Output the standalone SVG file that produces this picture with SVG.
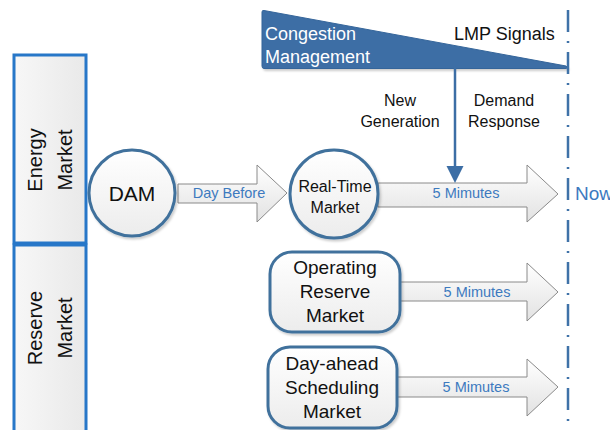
<svg xmlns="http://www.w3.org/2000/svg" width="610" height="430" viewBox="0 0 610 430">
<defs>
<linearGradient id="gArrow" x1="0" y1="0" x2="0" y2="1">
<stop offset="0" stop-color="#ffffff"/><stop offset="1" stop-color="#e2e2e2"/>
</linearGradient>
<linearGradient id="gNode" x1="0" y1="0" x2="0" y2="1">
<stop offset="0" stop-color="#ffffff"/><stop offset="1" stop-color="#ececec"/>
</linearGradient>
<linearGradient id="gPanel" x1="0" y1="0" x2="1" y2="0">
<stop offset="0" stop-color="#f7f7f7"/><stop offset="1" stop-color="#e9e9e9"/>
</linearGradient>
<filter id="sh" x="-10%" y="-10%" width="130%" height="130%">
<feDropShadow dx="1.5" dy="2" stdDeviation="1.2" flood-color="#000" flood-opacity="0.2"/>
</filter>
</defs>
<style>
text{font-family:"Liberation Sans",Arial,sans-serif;}
.node{fill:url(#gNode);stroke:#41719c;stroke-width:3;filter:url(#sh);}
.panel{fill:url(#gPanel);stroke:#2777c8;stroke-width:3;}
.arrow{fill:url(#gArrow);stroke:#8a8a8a;stroke-width:1;}
.lbl{fill:#3d7abf;font-size:14.5px;text-anchor:middle;}
.nt{fill:#111;text-anchor:middle;}
</style>

<g id="energy-market">
<rect class="panel" x="14" y="55" width="72" height="188"/>
<text class="nt" font-size="20" transform="translate(42,160) rotate(-90)">Energy</text>
<text class="nt" font-size="20" transform="translate(72,160) rotate(-90)">Market</text>
</g>
<g id="reserve-market">
<rect class="panel" x="14" y="245" width="72" height="200"/>
<text class="nt" font-size="20" transform="translate(42,328) rotate(-90)">Reserve</text>
<text class="nt" font-size="20" transform="translate(72,328) rotate(-90)">Market</text>
</g>

<g id="congestion">
<path d="M262,12 Q262,10 264,10.5 L566,66 Q569,68 566,68.5 L264,68.5 Q262,68.5 262,66 Z" fill="#3c6ea5" stroke="#35659a" stroke-width="1" filter="url(#sh)"/>
<text x="265" y="40" font-size="18" fill="#ffffff">Congestion</text>
<text x="265" y="63" font-size="18" fill="#ffffff">Management</text>
<text x="454" y="40" font-size="18" fill="#111">LMP Signals</text>
</g>

<g id="labels-top">
<text class="nt" x="400" y="106" font-size="16">New</text>
<text class="nt" x="400" y="127" font-size="16">Generation</text>
<text class="nt" x="504" y="106" font-size="16">Demand</text>
<text class="nt" x="504" y="127" font-size="16">Response</text>
</g>

<g id="now-line">
<line x1="568" y1="10" x2="568" y2="430" stroke="#3f72a8" stroke-width="2.5" stroke-dasharray="22 9 2 9"/>
<text x="575" y="200" font-size="19" fill="#3d7abf">Now</text>
</g>

<g id="connectors">
<g id="arrow-day-before">
<path class="arrow" d="M178,184 L257,184 L257,165 L287,193 L257,222 L257,203 L178,203 Z"/>
<text class="lbl" x="229" y="198" font-size="14">Day Before</text>
</g>
<g id="arrow-rt">
<path class="arrow" d="M378,183 L527,183 L527,165 L558,194 L527,222 L527,207 L378,207 Z"/>
<text class="lbl" x="466" y="198">5 Mimutes</text>
</g>
<g id="arrow-or">
<path class="arrow" d="M400,282 L527,282 L527,263 L558,292 L527,321 L527,301 L400,301 Z"/>
<text class="lbl" x="477" y="297">5 Mimutes</text>
</g>
<g id="arrow-ds">
<path class="arrow" d="M397,377 L527,377 L527,359 L558,387 L527,416 L527,397 L397,397 Z"/>
<text class="lbl" x="476" y="392">5 Mimutes</text>
</g>
<g id="arrow-lmp">
<line x1="455" y1="68" x2="455" y2="168" stroke="#3c6ea5" stroke-width="2.5"/>
<polygon points="446.5,166 463.5,166 455,183" fill="#3c6ea5"/>
</g>
</g>

<g id="dam">
<circle class="node" cx="132" cy="193" r="43"/>
<text class="nt" x="132" y="201" font-size="21">DAM</text>
</g>
<g id="real-time-market">
<circle class="node" cx="334" cy="194" r="44"/>
<text class="nt" x="335" y="192" font-size="16">Real-Time</text>
<text class="nt" x="335" y="213" font-size="16">Market</text>
</g>
<g id="operating-reserve-market">
<rect class="node" x="270" y="252" width="130" height="80" rx="22"/>
<text class="nt" x="335" y="274" font-size="19">Operating</text>
<text class="nt" x="335" y="298" font-size="19">Reserve</text>
<text class="nt" x="335" y="322" font-size="19">Market</text>
</g>
<g id="day-ahead-scheduling-market">
<rect class="node" x="268" y="347" width="129" height="81" rx="22"/>
<text class="nt" x="332" y="370" font-size="19">Day-ahead</text>
<text class="nt" x="332" y="394" font-size="19">Scheduling</text>
<text class="nt" x="332" y="418" font-size="19">Market</text>
</g>
</svg>
